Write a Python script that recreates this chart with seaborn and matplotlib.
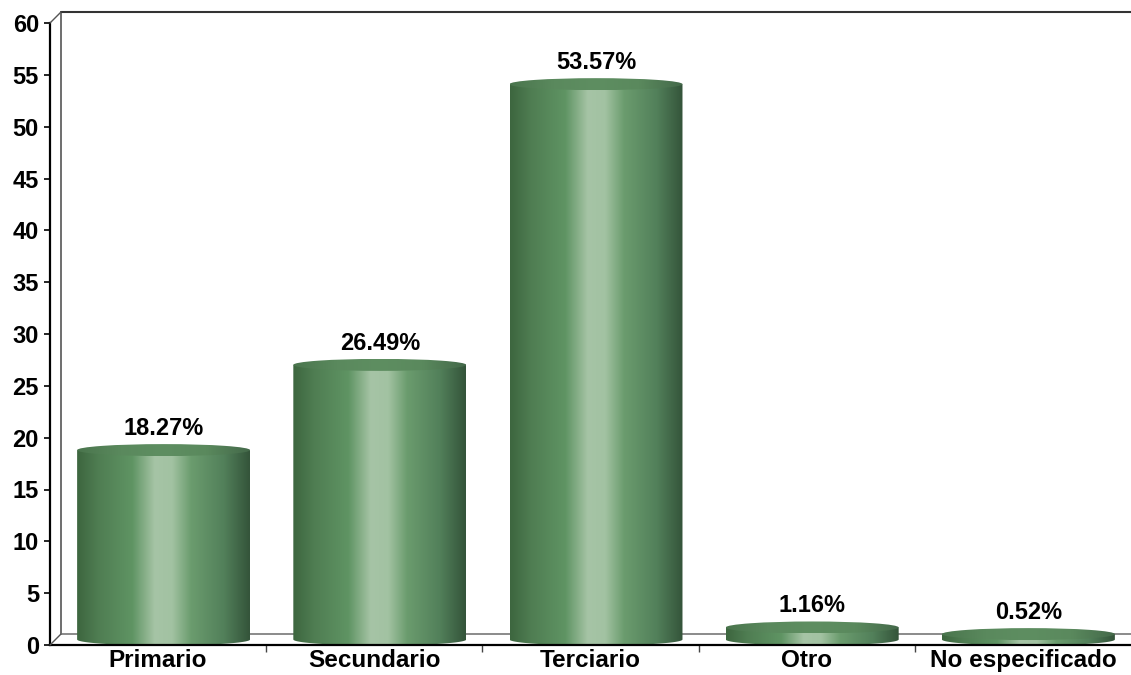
import numpy as np
import matplotlib
matplotlib.use("Agg")
import matplotlib.pyplot as plt
import matplotlib.transforms as mtransforms
from matplotlib.patches import Ellipse, PathPatch
from matplotlib.path import Path
from matplotlib.lines import Line2D
import seaborn as sns

categories = ["Primario", "Secundario", "Terciario", "Otro", "No especificado"]
values = [18.27, 26.49, 53.57, 1.16, 0.52]
y_ticks = list(range(0, 61, 5))

sns.set_style("white")
plt.rcParams["font.family"] = ["Liberation Sans", "DejaVu Sans"]
plt.rcParams["font.weight"] = "bold"
plt.rcParams["text.color"] = "black"
plt.rcParams["xtick.color"] = "black"
plt.rcParams["ytick.color"] = "black"

DPI = 100
fig = plt.figure(figsize=(11.31, 6.75), dpi=DPI)
# front plane of the 3D box
ax = fig.add_axes([50 / 1131, 30 / 675, 1081 / 1131, 622 / 675])

sns.barplot(x=categories, y=values, color="#5f9463", width=0.8, ax=ax)
ax.set_ylim(0, 60)
ax.set_xlim(-0.5, len(categories) - 0.5)

# depth offsets (pixels)
depth = 11
mid = mtransforms.ScaledTranslation(depth / 2 / DPI, depth / 2 / DPI, fig.dpi_scale_trans)
back = mtransforms.ScaledTranslation(depth / DPI, depth / DPI, fig.dpi_scale_trans)
tr_mid = ax.transData + mid

# gradient for cylinder body
stops = [0.0, 0.12, 0.32, 0.45, 0.55, 0.66, 0.85, 1.0]
cols = ["#3d663f", "#4f7d52", "#5f9463", "#a6c4a6", "#a2c2a2", "#6b9c6e", "#52805a", "#34543a"]
rgb = np.array([matplotlib.colors.to_rgb(c) for c in cols])
xs = np.linspace(0, 1, 256)
grad = np.stack([np.interp(xs, stops, rgb[:, i]) for i in range(3)], axis=-1)[None, :, :]

top_cols = ["#4a754d", "#5a895d", "#5e8e61", "#5a895d", "#44694a"]
top_rgb = np.array([matplotlib.colors.to_rgb(c) for c in top_cols])
top_grad = np.stack([np.interp(xs, np.linspace(0, 1, 5), top_rgb[:, i]) for i in range(3)], axis=-1)[None, :, :]

px_per_unit = 622 / 60
ell_h = 12 / px_per_unit

for p, v in zip(list(ax.patches), values):
    x0 = p.get_x()
    w = p.get_width()
    h = p.get_height()
    xc = x0 + w / 2
    p.set_visible(False)

    # body outline: rectangle + lower half ellipse
    t = np.linspace(np.pi, 2 * np.pi, 60)
    arc = np.column_stack([xc + w / 2 * np.cos(t), ell_h / 2 * np.sin(t)])
    verts = np.vstack([[x0, h], arc, [x0 + w, h], [x0, h]])
    codes = [Path.MOVETO] + [Path.LINETO] * (len(verts) - 2) + [Path.CLOSEPOLY]
    body = PathPatch(Path(verts, codes), facecolor="none", edgecolor="none", transform=tr_mid)
    ax.add_patch(body)
    im = ax.imshow(grad, extent=(x0, x0 + w, -ell_h / 2, h), aspect="auto",
                   transform=tr_mid, interpolation="bilinear", zorder=2)
    im.set_clip_path(body)

    top = Ellipse((xc, h), w, ell_h, facecolor="none", edgecolor="none", transform=tr_mid)
    ax.add_patch(top)
    im2 = ax.imshow(top_grad, extent=(x0, x0 + w, h - ell_h / 2, h + ell_h / 2), aspect="auto",
                    transform=tr_mid, interpolation="bilinear", zorder=3)
    im2.set_clip_path(top)

    ax.annotate(f"{v:.2f}%", xy=(xc, v), xytext=(depth / 2, depth / 2 + 6 + 9),
                textcoords="offset pixels", ha="center", va="baseline",
                fontsize=17, fontweight="bold", color="black", zorder=5)

ax.set_xlim(-0.5, len(categories) - 0.5)
ax.set_ylim(0, 60)

# back wall and floor lines
ta = ax.transAxes + back
ax.add_line(Line2D([0, 0], [0, 1], transform=ta, color="#555555", lw=1.2, clip_on=False, zorder=1))
ax.add_line(Line2D([0, 1.1], [1, 1], transform=ta, color="#333333", lw=1.5, clip_on=False, zorder=1))
ax.add_line(Line2D([0, 1.1], [0, 0], transform=ta, color="#777777", lw=1.2, clip_on=False, zorder=1))
# diagonals joining front and back planes
for yy in (0, 1):
    base = ax.transAxes.transform((0, yy))
    ln = Line2D([base[0], base[0] + depth], [base[1], base[1] + depth], transform=None,
                color="#555555", lw=1.0, clip_on=False, zorder=1)
    fig.add_artist(ln)

# front axes
sns.despine(ax=ax, top=True, right=True)
for side in ("left", "bottom"):
    ax.spines[side].set_color("black")
    ax.spines[side].set_linewidth(1.6)
    ax.spines[side].set_zorder(6)

ax.set_yticks(y_ticks)
ax.set_yticklabels([str(t) for t in y_ticks], fontsize=17, fontweight="bold")
ax.tick_params(axis="y", direction="out", length=4, width=1.2, pad=4, left=True, color="black")
ax.set_xticks(range(len(categories)))
ax.set_xticklabels(categories, fontsize=17.5, fontweight="bold")
ax.tick_params(axis="x", which="major", length=0, pad=3)
ax.set_xticks([i + 0.5 for i in range(len(categories) - 1)], minor=True)
ax.tick_params(axis="x", which="minor", direction="out", length=5, width=1.0, bottom=True, color="#444444")
ax.set_xlabel("")
ax.set_ylabel("")
ax.grid(False)

fig.savefig("out.png", dpi=DPI)
